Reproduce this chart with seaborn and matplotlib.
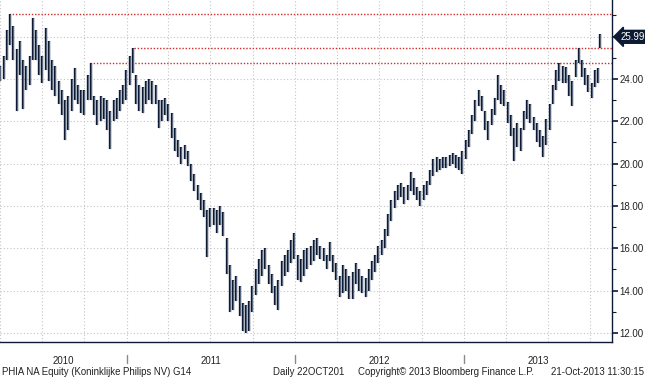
import numpy as np
import pandas as pd
import matplotlib.pyplot as plt
import matplotlib.dates as mdates
import matplotlib.transforms as mtransforms
from matplotlib.ticker import MultipleLocator, FormatStrFormatter
import seaborn as sns

sns.set_theme(style="white")
plt.rcParams['font.family'] = ['Liberation Sans', 'DejaVu Sans']

# weekly high / low (PHIA NA, EUR)
week_dates = list(pd.date_range("2010-04-02", "2013-10-18", freq="W-FRI")) + [pd.Timestamp("2013-10-21")]

low = [
    23.9, 24.0, 24.9, 25.6, 24.9, 22.5, 24.2, 22.6, 23.5, 23.7,
    24.9, 24.9, 24.2, 23.8, 24.4, 23.9, 23.5, 23.2, 22.8, 22.3,
    21.1, 21.6, 22.5, 23.0, 22.8, 22.4, 22.3, 23.0, 23.0, 22.3,
    21.8, 22.0, 22.1, 21.6, 20.7, 22.0, 22.1, 22.5, 22.8, 23.0,
    23.7, 24.3, 22.8, 22.5, 22.4, 22.8, 23.0, 22.8, 22.8, 21.7,
    22.0, 22.3, 22.0, 21.2, 20.6, 20.3, 20.0, 20.2, 19.9, 19.2,
    18.7, 18.3, 17.8, 17.5, 15.6, 17.0, 17.1, 16.7, 17.1, 16.6,
    14.8, 13.0, 13.1, 13.5, 12.8, 12.1, 12.0, 12.1, 13.0, 13.8,
    14.3, 14.7, 15.0, 14.3, 13.9, 13.3, 13.1, 14.2, 14.7, 14.9,
    15.3, 15.5, 14.5, 14.4, 14.7, 15.0, 15.2, 15.4, 15.7, 15.5,
    15.4, 15.0, 15.4, 14.9, 14.5, 13.7, 13.9, 14.0, 13.6, 13.6,
    14.3, 14.0, 13.9, 13.7, 14.0, 14.5, 14.9, 15.3, 15.7, 16.0,
    16.6, 17.3, 17.9, 18.3, 18.4, 18.1, 18.3, 18.7, 18.5, 18.3,
    18.0, 18.3, 18.5, 19.0, 19.4, 19.6, 19.7, 19.8, 19.8, 19.9,
    20.0, 19.8, 19.7, 19.5, 20.2, 20.8, 21.4, 22.0, 22.7, 22.5,
    21.6, 21.1, 21.8, 22.3, 23.0, 22.8, 22.7, 21.9, 21.3, 20.1,
    20.8, 20.6, 21.6, 22.1, 21.9, 21.6, 21.0, 20.8, 20.3, 20.9,
    21.6, 22.8, 23.5, 23.9, 23.8, 23.8, 23.2, 22.7, 24.1, 24.75,
    24.1, 23.7, 23.4, 23.1, 23.6, 23.8, 25.45,
]
high = [
    24.6, 25.1, 26.3, 27.05, 26.5, 25.4, 25.8, 24.9, 24.6, 25.1,
    26.9, 26.3, 25.6, 25.1, 26.4, 25.8, 24.9, 24.6, 23.9, 23.5,
    23.0, 23.2, 24.0, 24.5, 23.7, 23.5, 23.5, 24.2, 24.73, 23.2,
    23.0, 23.2, 23.1, 23.0, 22.5, 23.0, 23.1, 23.5, 23.7, 24.4,
    25.1, 25.47, 24.2, 23.7, 23.6, 23.9, 24.0, 23.9, 23.7, 23.0,
    23.0, 23.1, 22.8, 22.4, 21.7, 21.1, 20.8, 20.9, 20.6, 20.0,
    19.5, 19.0, 18.6, 18.3, 17.8, 17.9, 17.9, 17.8, 18.0, 17.7,
    16.5, 15.2, 14.5, 14.7, 14.2, 13.4, 13.3, 13.5, 14.2, 15.0,
    15.5, 15.9, 16.0, 15.2, 14.8, 14.2, 14.5, 15.4, 15.7, 15.9,
    16.4, 16.7, 15.7, 15.5, 15.9, 16.0, 16.1, 16.4, 16.5, 16.1,
    16.0, 15.7, 16.3, 15.7, 15.3, 14.7, 15.2, 15.0, 14.7, 14.9,
    15.3, 15.0, 14.7, 14.6, 15.0, 15.4, 15.7, 16.1, 16.4, 16.9,
    17.6, 18.3, 18.7, 19.0, 19.1, 18.9, 19.0, 19.6, 19.3, 18.9,
    18.7, 19.0, 19.2, 19.7, 20.2, 20.3, 20.2, 20.3, 20.3, 20.4,
    20.5, 20.4, 20.3, 20.6, 21.1, 21.6, 22.3, 23.0, 23.5, 23.2,
    22.5, 22.0, 22.6, 23.1, 24.2, 23.7, 23.5, 22.9, 22.3, 21.7,
    21.9, 21.7, 22.5, 23.0, 22.8, 22.2, 21.9, 21.6, 21.3, 22.1,
    22.8, 23.7, 24.4, 24.73, 24.6, 24.55, 24.2, 23.9, 24.9, 25.47,
    24.9, 24.5, 24.2, 23.8, 24.4, 24.5, 26.1,
]
last_price = 25.99

# resistance levels (dotted red) and the date each one starts
level_values = [27.05, 25.47, 24.73]
level_starts = ["2010-04-20", "2011-01-17", "2010-10-13"]

year_labels = ["2010", "2011", "2012", "2013"]
year_label_dates = ["2010-08-16", "2011-07-02", "2012-07-01", "2013-06-10"]
year_breaks = ["2011-01-01", "2012-01-01", "2013-01-01"]

navy = "#0c1a33"
df = pd.DataFrame({"date": week_dates, "low": low, "high": high})

fig = plt.figure(figsize=(6.45, 3.8), dpi=100)
ax = fig.add_axes([0, 0.1, 612 / 645, 0.9])

x0, x1 = pd.Timestamp("2010-04-01"), pd.Timestamp("2013-11-17")
ax.set_xlim(x0, x1)
ax.set_ylim(11.57, 27.73)

# grid
ax.xaxis.set_major_locator(mdates.MonthLocator(bymonth=[1, 4, 7, 10]))
ax.xaxis.set_minor_locator(mdates.MonthLocator())
ax.yaxis.set_major_locator(MultipleLocator(2))
ax.yaxis.set_minor_locator(MultipleLocator(1))
ax.grid(True, which="major", color="#c4c4c4", linestyle=(0, (1, 2)), linewidth=0.8)
ax.set_axisbelow(True)

# candles
ax.vlines(df["date"], df["low"], df["high"], color=navy, linewidth=1.7, zorder=3)
ax.vlines(df["date"], df["low"], df["high"], color="#8d9db2", linewidth=0.55, alpha=0.75, zorder=4)

for lv, st in zip(level_values, level_starts):
    ax.hlines(lv, pd.Timestamp(st), x1, color="#d42a2a", linestyle=(0, (1, 1.3)), linewidth=1.0, zorder=2)

# axes styling
sns.despine(ax=ax, left=True, top=True, right=False, bottom=False)
for s in ("right", "bottom"):
    ax.spines[s].set_color(navy)
    ax.spines[s].set_linewidth(1.0)
ax.yaxis.tick_right()
ax.yaxis.set_major_formatter(FormatStrFormatter("%.2f"))
ax.tick_params(axis="y", which="major", direction="out", length=4, width=1.2, color=navy,
               labelsize=7, labelcolor="#222222", pad=1.5)
ax.tick_params(axis="y", which="minor", direction="out", length=3, width=0.8, color=navy)
ax.tick_params(axis="x", which="both", direction="out", length=3, width=0.8, color=navy,
               labelbottom=False)

# year separators and labels under the axis
trans = mtransforms.blended_transform_factory(ax.transData, ax.transAxes)
for d in year_breaks:
    ax.plot([pd.Timestamp(d)] * 2, [-0.038, -0.062], color="#8a8a8a", lw=1.0,
            transform=trans, clip_on=False)
for lab, d in zip(year_labels, year_label_dates):
    ax.text(pd.Timestamp(d), -0.055, lab, transform=trans, ha="center", va="center",
            fontsize=7, color="#222222")

# last price tag
ax.annotate(f"{last_price:.2f}", xy=(1.0, last_price), xycoords=("axes fraction", "data"),
            xytext=(1.014, last_price), textcoords=("axes fraction", "data"),
            ha="left", va="center", fontsize=7, color="white", annotation_clip=False,
            bbox=dict(boxstyle="larrow,pad=0.15", fc=navy, ec=navy))

# footer
foot_y = 1 - 372 / 380
fig.text(2 / 645, foot_y, "PHIA NA Equity (Koninklijke Philips NV) G14", fontsize=6.9,
         color="#222222", va="center")
fig.text(273 / 645, foot_y, "Daily 22OCT201", fontsize=6.9, color="#222222", va="center")
fig.text(358 / 645, foot_y, "Copyright\u00a9 2013 Bloomberg Finance L.P.", fontsize=6.9,
         color="#222222", va="center")
fig.text(644 / 645, foot_y, "21-Oct-2013 11:30:15", fontsize=6.9, color="#222222",
         va="center", ha="right")

fig.savefig("out.png", dpi=100)
